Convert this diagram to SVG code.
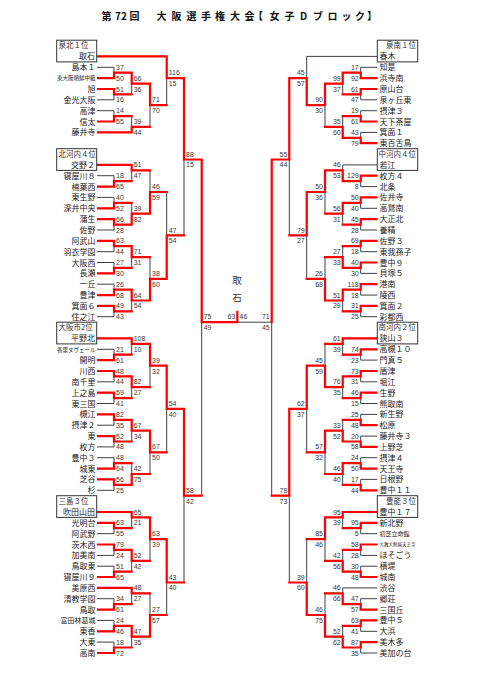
<svg xmlns="http://www.w3.org/2000/svg" width="481" height="680" viewBox="0 0 481 680">
<style>
.t{font-family:"Noto Sans CJK JP","Noto Sans",sans-serif;font-size:8px;fill:#222}
.l{text-anchor:end}
.lb{font-family:"Noto Sans CJK JP",sans-serif;font-size:7.5px;fill:#333}
.s{font-family:"Liberation Sans",Arial,sans-serif;font-size:7px;fill:#3a3a3a}
.se{text-anchor:end}
.k{fill:none;stroke:#404040;stroke-width:1}
.r{fill:none;stroke:#ff0000;stroke-width:2.2;stroke-linecap:square}
.bx{fill:#fff;stroke:#333;stroke-width:1}
</style>
<rect width="481" height="680" fill="#fff"/>
<text font-family="'Noto Sans CJK JP',sans-serif" font-size="10" font-weight="bold" fill="#111" y="19.5" x="101.5 115 121 129.5 156.5 171.5 186.5 201 215 230 244.5 253 269.5 284.5 300 313 327.5 341.5 355 367">第72回大阪選手権大会【女子Dブロック】</text>
<g id="connectors">
<path class="k" d="M96.7 56.4H166.7M97 67.3H114M97 78.1H114M97 89H114M97 99.8H114M97 110.7H114M97 121.5H114M97 132.4H131.7M96.7 164.9H131.7M97 175.7H114M97 186.6H114M97 197.4H114M97 208.3H114M97 219.1H114M97 230H114M97 240.8H114M97 251.7H114M97 262.5H114M97 273.4H114M97 284.2H114M97 295.1H114M97 305.9H114M97 316.7H114M96.7 338.4H131.7M97 349.3H114M97 360.1H114M97 371H114M97 381.8H114M97 392.7H114M97 403.5H114M97 414.4H114M97 425.2H114M97 436.1H114M97 446.9H114M97 457.7H114M97 468.6H114M97 479.4H114M97 490.3H114M96.7 512H131.7M97 522.8H114M97 533.7H114M97 544.5H114M97 555.4H114M97 566.2H114M97 577H114M97 587.9H131.7M97 598.7H114M97 609.6H114M97 620.4H114M97 631.3H114M97 642.1H114M97 653H114"/>
<path class="k" d="M114 67.3V78.1M114 72.7H131.7M114 89V99.8M114 94.4H131.7M114 110.7V121.5M114 116.1H131.7M114 175.7V186.6M114 181.2H131.7M114 197.4V208.3M114 202.9H131.7M114 219.1V230M114 224.6H131.7M114 240.8V251.7M114 246.2H131.7M114 262.5V273.4M114 267.9H131.7M114 284.2V295.1M114 289.6H131.7M114 305.9V316.7M114 311.3H131.7M114 349.3V360.1M114 354.7H131.7M114 371V381.8M114 376.4H131.7M114 392.7V403.5M114 398.1H131.7M114 414.4V425.2M114 419.8H131.7M114 436.1V446.9M114 441.5H131.7M114 457.7V468.6M114 463.2H131.7M114 479.4V490.3M114 484.9H131.7M114 522.8V533.7M114 528.2H131.7M114 544.5V555.4M114 549.9H131.7M114 566.2V577M114 571.6H131.7M114 598.7V609.6M114 604.2H131.7M114 620.4V631.3M114 625.9H131.7M114 642.1V653M114 647.5H131.7"/>
<path class="k" d="M131.7 72.7V94.4M131.7 83.6H150M131.7 116.1V132.4M131.7 126.9H150M131.7 164.9V181.2M131.7 170.3H150M131.7 202.9V224.6M131.7 213.7H150M131.7 246.2V267.9M131.7 257.1H150M131.7 289.6V311.3M131.7 300.5H150M131.7 338.4V354.7M131.7 343.9H150M131.7 376.4V398.1M131.7 387.2H150M131.7 419.8V441.5M131.7 430.6H150M131.7 463.2V484.9M131.7 474H150M131.7 512V528.2M131.7 517.4H150M131.7 549.9V571.6M131.7 560.8H150M131.7 587.9V604.2M131.7 593.3H150M131.7 625.9V647.5M131.7 636.7H150M150 83.6V126.9M150 105.2H166.7M150 170.3V213.7M150 192H166.7M150 257.1V300.5M150 278.8H166.7M150 343.9V387.2M150 365.6H166.7M150 430.6V474M150 452.3H166.7M150 517.4V560.8M150 539.1H166.7M150 593.3V636.7M150 615H166.7M166.7 56.4V105.2M166.7 78.1H184M166.7 192V278.8M166.7 235.4H184M166.7 365.6V452.3M166.7 408.9H184M166.7 539.1V615M166.7 582.5H184M184 78.1V235.4M184 159.5H201.7M184 408.9V582.5M184 495.7H201.7M201.7 159.5V495.7M201.7 322.2H271.7M271.7 159.5V495.7"/>
<path class="k" d="M377.3 56.4H306.7M377.3 67.3H360.7M377.3 78.1H360.7M377.3 89H360.7M377.3 99.8H360.7M377.3 110.7H360.7M377.3 121.5H360.7M377.3 132.4H360.7M377.3 143.2H360.7M377.3 164.9H342.7M377.3 175.7H360.7M377.3 186.6H360.7M377.3 197.4H360.7M377.3 208.3H360.7M377.3 219.1H360.7M377.3 230H360.7M377.3 240.8H360.7M377.3 251.7H360.7M377.3 262.5H360.7M377.3 273.4H360.7M377.3 284.2H360.7M377.3 295.1H360.7M377.3 305.9H360.7M377.3 316.7H360.7M377.3 338.4H342.7M377.3 349.3H360.7M377.3 360.1H360.7M377.3 371H360.7M377.3 381.8H360.7M377.3 392.7H360.7M377.3 403.5H360.7M377.3 414.4H360.7M377.3 425.2H360.7M377.3 436.1H360.7M377.3 446.9H360.7M377.3 457.7H360.7M377.3 468.6H360.7M377.3 479.4H360.7M377.3 490.3H360.7M377.3 512H342.7M377.3 522.8H360.7M377.3 533.7H360.7M377.3 544.5H360.7M377.3 555.4H360.7M377.3 566.2H360.7M377.3 577H360.7M377.3 587.9H342.7M377.3 598.7H360.7M377.3 609.6H360.7M377.3 620.4H360.7M377.3 631.3H360.7M377.3 642.1H360.7M377.3 653H360.7"/>
<path class="k" d="M360.7 67.3V78.1M360.7 72.7H342.7M360.7 89V99.8M360.7 94.4H342.7M360.7 110.7V121.5M360.7 116.1H342.7M360.7 132.4V143.2M360.7 137.8H342.7M360.7 175.7V186.6M360.7 181.2H342.7M360.7 197.4V208.3M360.7 202.9H342.7M360.7 219.1V230M360.7 224.6H342.7M360.7 240.8V251.7M360.7 246.2H342.7M360.7 262.5V273.4M360.7 267.9H342.7M360.7 284.2V295.1M360.7 289.6H342.7M360.7 305.9V316.7M360.7 311.3H342.7M360.7 349.3V360.1M360.7 354.7H342.7M360.7 371V381.8M360.7 376.4H342.7M360.7 392.7V403.5M360.7 398.1H342.7M360.7 414.4V425.2M360.7 419.8H342.7M360.7 436.1V446.9M360.7 441.5H342.7M360.7 457.7V468.6M360.7 463.2H342.7M360.7 479.4V490.3M360.7 484.9H342.7M360.7 522.8V533.7M360.7 528.2H342.7M360.7 544.5V555.4M360.7 549.9H342.7M360.7 566.2V577M360.7 571.6H342.7M360.7 598.7V609.6M360.7 604.2H342.7M360.7 620.4V631.3M360.7 625.9H342.7M360.7 642.1V653M360.7 647.5H342.7"/>
<path class="k" d="M342.7 72.7V94.4M342.7 83.6H325M342.7 116.1V137.8M342.7 126.9H325M342.7 164.9V181.2M342.7 170.3H325M342.7 202.9V224.6M342.7 213.7H325M342.7 246.2V267.9M342.7 257.1H325M342.7 289.6V311.3M342.7 300.5H325M342.7 338.4V354.7M342.7 343.9H325M342.7 376.4V398.1M342.7 387.2H325M342.7 419.8V441.5M342.7 430.6H325M342.7 463.2V484.9M342.7 474H325M342.7 512V528.2M342.7 517.4H325M342.7 549.9V571.6M342.7 560.8H325M342.7 587.9V604.2M342.7 593.3H325M342.7 625.9V647.5M342.7 636.7H325M325 83.6V126.9M325 105.2H306.7M325 170.3V213.7M325 192H306.7M325 257.1V300.5M325 278.8H306.7M325 343.9V387.2M325 365.6H306.7M325 430.6V474M325 452.3H306.7M325 517.4V560.8M325 539.1H306.7M325 593.3V636.7M325 615H306.7M306.7 56.4V105.2M306.7 78.1H289.3M306.7 192V278.8M306.7 235.4H289.3M306.7 365.6V452.3M306.7 408.9H289.3M306.7 539.1V615M306.7 582.5H289.3M289.3 78.1V235.4M289.3 159.5H271.7M289.3 408.9V582.5M289.3 495.7H271.7"/>
<path class="r" d="M98 78.1H114V72.7H131.7M98 89H114V94.4H131.7M98 121.5H114V116.1H131.7M131.7 72.7V83.6H150M98 132.4H131.7V126.9H150M150 83.6V105.2H166.7M97.5 56.4H166.7V78.1H184M184 78.1V159.5H201.7M98 186.6H114V181.2H131.7M98 208.3H114V202.9H131.7M98 219.1H114V224.6H131.7M98 240.8H114V246.2H131.7M98 273.4H114V267.9H131.7M98 295.1H114V289.6H131.7M98 305.9H114V311.3H131.7M97.5 164.9H131.7V170.3H150M131.7 224.6V213.7H150M131.7 246.2V257.1H150M131.7 289.6V300.5H150M150 213.7V192H166.7M150 300.5V278.8H166.7M166.7 278.8V235.4H184M98 360.1H114V354.7H131.7M98 371H114V376.4H131.7M98 392.7H114V398.1H131.7M98 414.4H114V419.8H131.7M98 436.1H114V441.5H131.7M98 468.6H114V463.2H131.7M98 479.4H114V484.9H131.7M97.5 338.4H131.7V343.9H150M131.7 376.4V387.2H150M131.7 419.8V430.6H150M131.7 484.9V474H150M150 343.9V365.6H166.7M150 430.6V452.3H166.7M166.7 365.6V408.9H184M184 408.9V495.7H201.7M98 522.8H114V528.2H131.7M98 544.5H114V549.9H131.7M98 577H114V571.6H131.7M98 609.6H114V604.2H131.7M98 631.3H114V625.9H131.7M98 653H114V647.5H131.7M97.5 512H131.7V517.4H150M131.7 549.9V560.8H150M98 587.9H131.7V593.3H150M131.7 625.9V636.7H150M150 517.4V539.1H166.7M150 636.7V615H166.7M166.7 539.1V582.5H184M201.7 159.5V322.2H237.3V311.8"/>
<path class="r" d="M376.3 78.1H360.7V72.7H342.7M376.3 89H360.7V94.4H342.7M376.3 121.5H360.7V116.1H342.7M376.3 143.2H360.7V137.8H342.7M342.7 72.7V83.6H325M342.7 137.8V126.9H325M325 83.6V105.2H306.7M306.7 105.2V78.1H289.3M289.3 78.1V159.5H271.7M376.3 175.7H360.7V181.2H342.7M376.3 197.4H360.7V202.9H342.7M376.3 219.1H360.7V224.6H342.7M376.3 240.8H360.7V246.2H342.7M376.3 262.5H360.7V267.9H342.7M376.3 284.2H360.7V289.6H342.7M376.3 305.9H360.7V311.3H342.7M342.7 181.2V170.3H325M342.7 202.9V213.7H325M342.7 267.9V257.1H325M342.7 289.6V300.5H325M325 170.3V192H306.7M325 300.5V278.8H306.7M306.7 192V235.4H289.3M376.3 349.3H360.7V354.7H342.7M376.3 371H360.7V376.4H342.7M376.3 392.7H360.7V398.1H342.7M376.3 425.2H360.7V419.8H342.7M376.3 446.9H360.7V441.5H342.7M376.3 468.6H360.7V463.2H342.7M376.3 490.3H360.7V484.9H342.7M376.8 338.4H342.7V343.9H325M342.7 376.4V387.2H325M342.7 441.5V430.6H325M342.7 463.2V474H325M325 387.2V365.6H306.7M325 430.6V452.3H306.7M306.7 365.6V408.9H289.3M289.3 408.9V495.7H271.7M376.3 522.8H360.7V528.2H342.7M376.3 544.5H360.7V549.9H342.7M376.3 577H360.7V571.6H342.7M376.3 609.6H360.7V604.2H342.7M376.3 620.4H360.7V625.9H342.7M376.3 642.1H360.7V647.5H342.7M376.8 512H342.7V517.4H325M342.7 571.6V560.8H325M342.7 604.2V593.3H325M342.7 647.5V636.7H325M325 517.4V539.1H306.7M325 636.7V615H306.7M306.7 615V582.5H289.3M271.7 159.5V322.2"/>
</g>
<g id="boxes">
<g id="n-toriishi"><rect class="bx" x="56.7" y="40.2" width="40" height="21.7"/><text class="lb" x="58.5" y="48.4">泉北１位</text><text class="t l" x="95" y="59.4">取石</text></g>
<g id="n-katano2"><rect class="bx" x="56.7" y="148.7" width="40" height="21.7"/><text class="lb" x="58.5" y="156.9">北河内４位</text><text class="t l" x="95" y="167.9">交野２</text></g>
<g id="n-hiranokita"><rect class="bx" x="56.7" y="322.2" width="40" height="21.7"/><text class="lb" x="58.5" y="330.4">大阪市2位</text><text class="t l" x="95" y="341.4">平野北</text></g>
<g id="n-suitayamada"><rect class="bx" x="56.7" y="495.7" width="40" height="21.7"/><text class="lb" x="58.5" y="503.9">三島３位</text><text class="t l" x="95" y="515">吹田山田</text></g>
<g id="n-haruki"><rect class="bx" x="377.3" y="40.2" width="40.4" height="21.7"/><text class="lb l" x="416" y="48.4">泉南１位</text><text class="t" x="379.5" y="59.4">春木</text></g>
<g id="n-wakae"><rect class="bx" x="377.3" y="148.7" width="40.4" height="21.7"/><text class="lb l" x="416" y="156.9">中河内４位</text><text class="t" x="379.5" y="167.9">若江</text></g>
<g id="n-sayama3"><rect class="bx" x="377.3" y="322.2" width="40.4" height="21.7"/><text class="lb l" x="416" y="330.4">南河内２位</text><text class="t" x="379.5" y="341.4">狭山３</text></g>
<g id="n-toyonaka17"><rect class="bx" x="377.3" y="495.7" width="40.4" height="21.7"/><text class="lb l" x="416" y="503.9">豊能３位</text><text class="t" x="379.5" y="515">豊中１７</text></g>
</g>
<g id="left-teams" class="t l">
<text x="95.5" y="70.3">島本１</text>
<text x="95.5" y="80.2" font-size="5.5">東大阪朝鮮中級</text>
<text x="95.5" y="92">旭</text>
<text x="95.5" y="102.8">金光大阪</text>
<text x="95.5" y="113.7">高津</text>
<text x="95.5" y="124.5">信太</text>
<text x="95.5" y="135.4">藤井寺</text>
<text x="95.5" y="178.7">寝屋川８</text>
<text x="95.5" y="189.6">楠葉西</text>
<text x="95.5" y="200.4">東生野</text>
<text x="95.5" y="211.3">深井中央</text>
<text x="95.5" y="222.1">蒲生</text>
<text x="95.5" y="233">佐野</text>
<text x="95.5" y="243.8">阿武山</text>
<text x="95.5" y="254.7">羽衣学園</text>
<text x="95.5" y="265.5">大阪西</text>
<text x="95.5" y="276.4">長瀬</text>
<text x="95.5" y="287.2">一丘</text>
<text x="95.5" y="298.1">豊津</text>
<text x="95.5" y="308.9">箕面６</text>
<text x="95.5" y="319.7">住之江</text>
<text x="95.5" y="351.5" font-size="5.5">香里ヌヴェール</text>
<text x="95.5" y="363.1">開明</text>
<text x="95.5" y="374">川西</text>
<text x="95.5" y="384.8">南千里</text>
<text x="95.5" y="395.7">上之島</text>
<text x="95.5" y="406.5">東三国</text>
<text x="95.5" y="417.4">槻江</text>
<text x="95.5" y="428.2">摂津２</text>
<text x="95.5" y="439.1">東</text>
<text x="95.5" y="449.9">枚方</text>
<text x="95.5" y="460.7">豊中３</text>
<text x="95.5" y="471.6">城東</text>
<text x="95.5" y="482.4">芝谷</text>
<text x="95.5" y="493.3">杉</text>
<text x="95.5" y="525.8">光明台</text>
<text x="95.5" y="536.7">阿武野</text>
<text x="95.5" y="547.5">茨木西</text>
<text x="95.5" y="558.4">加美南</text>
<text x="95.5" y="569.2">鳥取東</text>
<text x="95.5" y="580">寝屋川９</text>
<text x="95.5" y="590.9">美原西</text>
<text x="95.5" y="601.7">清教学園</text>
<text x="95.5" y="612.6">鳥取</text>
<text x="95.5" y="623" font-size="7">富田林葛城</text>
<text x="95.5" y="634.3">東香</text>
<text x="95.5" y="645.1">大東</text>
<text x="95.5" y="656">高南</text>
</g>
<g id="right-teams" class="t">
<text x="379.5" y="70.3">知是</text>
<text x="379.5" y="81.1">浜寺南</text>
<text x="379.5" y="92">原山台</text>
<text x="379.5" y="102.8">泉ヶ丘東</text>
<text x="379.5" y="113.7">摂津３</text>
<text x="379.5" y="124.5">天下茶屋</text>
<text x="379.5" y="135.4">箕面１</text>
<text x="379.5" y="146.2">東百舌鳥</text>
<text x="379.5" y="178.7">枚方４</text>
<text x="379.5" y="189.6">北条</text>
<text x="379.5" y="200.4">佐井寺</text>
<text x="379.5" y="211.3">高鷲南</text>
<text x="379.5" y="222.1">大正北</text>
<text x="379.5" y="233">養精</text>
<text x="379.5" y="243.8">佐野３</text>
<text x="379.5" y="254.7">東我孫子</text>
<text x="379.5" y="265.5">豊中９</text>
<text x="379.5" y="276.4">貝塚５</text>
<text x="379.5" y="287.2">港南</text>
<text x="379.5" y="298.1">陵西</text>
<text x="379.5" y="308.9">箕面２</text>
<text x="379.5" y="319.7">彩都西</text>
<text x="379.5" y="352.3">高槻１０</text>
<text x="379.5" y="363.1">門真５</text>
<text x="379.5" y="374">盾津</text>
<text x="379.5" y="384.8">堀江</text>
<text x="379.5" y="395.7">生野</text>
<text x="379.5" y="406.5">熊取南</text>
<text x="379.5" y="417.4">新生野</text>
<text x="379.5" y="428.2">松原</text>
<text x="379.5" y="439.1">藤井寺３</text>
<text x="379.5" y="449.9">上野芝</text>
<text x="379.5" y="460.7">摂津４</text>
<text x="379.5" y="471.6">天王寺</text>
<text x="379.5" y="482.4">日根野</text>
<text x="379.5" y="493.3">豊中１１</text>
<text x="379.5" y="525.8">新北野</text>
<text x="379.5" y="536.1" font-size="6">初芝立命館</text>
<text x="379.5" y="546.3" font-size="4.5">大教大附属天王寺</text>
<text x="379.5" y="558.4">ほそごう</text>
<text x="379.5" y="569.2">横堤</text>
<text x="379.5" y="580">城南</text>
<text x="379.5" y="590.9">渋谷</text>
<text x="379.5" y="601.7">郷荘</text>
<text x="379.5" y="612.6">三国丘</text>
<text x="379.5" y="623.4">豊中５</text>
<text x="379.5" y="634.3">大浜</text>
<text x="379.5" y="645.1">美木多</text>
<text x="379.5" y="656">美加の台</text>
</g>
<g id="center">
<text font-family="'Noto Sans CJK JP',sans-serif" font-size="9.5" fill="#333" text-anchor="middle" x="237" y="284">取</text>
<text font-family="'Noto Sans CJK JP',sans-serif" font-size="9.5" fill="#333" text-anchor="middle" x="237" y="300.5">石</text>
</g>
<g id="scores-left" class="s">
<text><tspan x="116" y="69.8">37</tspan><tspan x="116" y="80.6">50</tspan><tspan x="116" y="91.5">51</tspan><tspan x="116" y="102.3">16</tspan><tspan x="116" y="113.2">14</tspan><tspan x="116" y="124">55</tspan><tspan x="116" y="178.2">18</tspan><tspan x="116" y="189.1">65</tspan><tspan x="116" y="199.9">40</tspan><tspan x="116" y="210.8">52</tspan><tspan x="116" y="221.6">66</tspan><tspan x="116" y="232.5">28</tspan><tspan x="116" y="243.3">63</tspan><tspan x="116" y="254.2">44</tspan><tspan x="116" y="265">27</tspan><tspan x="116" y="275.9">30</tspan><tspan x="116" y="286.7">26</tspan><tspan x="116" y="297.6">68</tspan><tspan x="116" y="308.4">49</tspan><tspan x="116" y="319.2">43</tspan><tspan x="116" y="351.8">21</tspan><tspan x="116" y="362.6">61</tspan><tspan x="116" y="373.5">48</tspan><tspan x="116" y="384.3">44</tspan><tspan x="116" y="395.2">59</tspan><tspan x="116" y="406">41</tspan><tspan x="116" y="416.9">82</tspan><tspan x="116" y="427.7">35</tspan><tspan x="116" y="438.6">52</tspan><tspan x="116" y="449.4">48</tspan><tspan x="116" y="460.2">48</tspan><tspan x="116" y="471.1">64</tspan><tspan x="116" y="481.9">56</tspan><tspan x="116" y="492.8">25</tspan><tspan x="116" y="525.3">63</tspan><tspan x="116" y="536.2">55</tspan><tspan x="116" y="547">79</tspan><tspan x="116" y="557.9">24</tspan><tspan x="116" y="568.7">51</tspan><tspan x="116" y="579.5">65</tspan><tspan x="116" y="601.2">34</tspan><tspan x="116" y="612.1">61</tspan><tspan x="116" y="622.9">24</tspan><tspan x="116" y="633.8">46</tspan><tspan x="116" y="644.6">18</tspan><tspan x="116" y="655.5">72</tspan></text>
<text><tspan x="133.7" y="80.6">66</tspan><tspan x="133.7" y="91.5">36</tspan><tspan x="133.7" y="124">39</tspan><tspan x="133.7" y="134.9">44</tspan><tspan x="133.7" y="167.4">51</tspan><tspan x="133.7" y="178.2">47</tspan><tspan x="133.7" y="210.8">39</tspan><tspan x="133.7" y="221.6">82</tspan><tspan x="133.7" y="254.2">71</tspan><tspan x="133.7" y="265">31</tspan><tspan x="133.7" y="297.6">64</tspan><tspan x="133.7" y="308.4">54</tspan><tspan x="133.7" y="340.9">108</tspan><tspan x="133.7" y="351.8">10</tspan><tspan x="133.7" y="384.3">82</tspan><tspan x="133.7" y="395.2">27</tspan><tspan x="133.7" y="427.7">67</tspan><tspan x="133.7" y="438.6">34</tspan><tspan x="133.7" y="471.1">42</tspan><tspan x="133.7" y="481.9">75</tspan><tspan x="133.7" y="514.5">65</tspan><tspan x="133.7" y="525.3">21</tspan><tspan x="133.7" y="557.9">52</tspan><tspan x="133.7" y="568.7">42</tspan><tspan x="133.7" y="590.4">48</tspan><tspan x="133.7" y="601.2">27</tspan><tspan x="133.7" y="633.8">47</tspan><tspan x="133.7" y="644.6">35</tspan></text>
<text><tspan x="152" y="102.3">71</tspan><tspan x="152" y="113.2">70</tspan><tspan x="152" y="189.1">46</tspan><tspan x="152" y="199.9">59</tspan><tspan x="152" y="275.9">38</tspan><tspan x="152" y="286.7">60</tspan><tspan x="152" y="362.6">39</tspan><tspan x="152" y="373.5">32</tspan><tspan x="152" y="449.4">67</tspan><tspan x="152" y="460.2">50</tspan><tspan x="152" y="536.2">63</tspan><tspan x="152" y="547">39</tspan><tspan x="152" y="612.1">27</tspan><tspan x="152" y="622.9">57</tspan></text>
<text><tspan x="168.7" y="75.2">116</tspan><tspan x="168.7" y="86.1">15</tspan><tspan x="168.7" y="232.5">47</tspan><tspan x="168.7" y="243.3">54</tspan><tspan x="168.7" y="406">54</tspan><tspan x="168.7" y="416.9">40</tspan><tspan x="168.7" y="579.5">43</tspan><tspan x="168.7" y="590.4">40</tspan></text>
<text><tspan x="186" y="156.6">88</tspan><tspan x="186" y="167.4">15</tspan><tspan x="186" y="492.8">58</tspan><tspan x="186" y="503.6">42</tspan><tspan x="203.7" y="319.2">75</tspan><tspan x="203.7" y="330.1">49</tspan><tspan x="239.5" y="319.2">46</tspan></text>
<text class="se"><tspan x="235.3" y="319.2">63</tspan></text>
</g>
<g id="scores-right" class="s se">
<text><tspan x="358.7" y="69.8">17</tspan><tspan x="358.7" y="80.6">92</tspan><tspan x="358.7" y="91.5">61</tspan><tspan x="358.7" y="102.3">47</tspan><tspan x="358.7" y="113.2">19</tspan><tspan x="358.7" y="124">61</tspan><tspan x="358.7" y="134.9">43</tspan><tspan x="358.7" y="145.7">79</tspan><tspan x="358.7" y="178.2">129</tspan><tspan x="358.7" y="189.1">8</tspan><tspan x="358.7" y="199.9">50</tspan><tspan x="358.7" y="210.8">40</tspan><tspan x="358.7" y="221.6">45</tspan><tspan x="358.7" y="232.5">28</tspan><tspan x="358.7" y="243.3">69</tspan><tspan x="358.7" y="254.2">18</tspan><tspan x="358.7" y="265">40</tspan><tspan x="358.7" y="275.9">30</tspan><tspan x="358.7" y="286.7">118</tspan><tspan x="358.7" y="297.6">18</tspan><tspan x="358.7" y="308.4">31</tspan><tspan x="358.7" y="319.2">25</tspan><tspan x="358.7" y="351.8">74</tspan><tspan x="358.7" y="362.6">23</tspan><tspan x="358.7" y="373.5">73</tspan><tspan x="358.7" y="384.3">31</tspan><tspan x="358.7" y="395.2">46</tspan><tspan x="358.7" y="406">15</tspan><tspan x="358.7" y="416.9">25</tspan><tspan x="358.7" y="427.7">48</tspan><tspan x="358.7" y="438.6">20</tspan><tspan x="358.7" y="449.4">58</tspan><tspan x="358.7" y="460.2">24</tspan><tspan x="358.7" y="471.1">50</tspan><tspan x="358.7" y="481.9">17</tspan><tspan x="358.7" y="492.8">44</tspan><tspan x="358.7" y="525.3">95</tspan><tspan x="358.7" y="536.2">5</tspan><tspan x="358.7" y="547">58</tspan><tspan x="358.7" y="557.9">28</tspan><tspan x="358.7" y="568.7">30</tspan><tspan x="358.7" y="579.5">48</tspan><tspan x="358.7" y="601.2">47</tspan><tspan x="358.7" y="612.1">57</tspan><tspan x="358.7" y="622.9">63</tspan><tspan x="358.7" y="633.8">41</tspan><tspan x="358.7" y="644.6">87</tspan><tspan x="358.7" y="655.5">35</tspan></text>
<text><tspan x="340.7" y="80.6">99</tspan><tspan x="340.7" y="91.5">37</tspan><tspan x="340.7" y="124">35</tspan><tspan x="340.7" y="134.9">60</tspan><tspan x="340.7" y="167.4">46</tspan><tspan x="340.7" y="178.2">53</tspan><tspan x="340.7" y="210.8">56</tspan><tspan x="340.7" y="221.6">31</tspan><tspan x="340.7" y="254.2">27</tspan><tspan x="340.7" y="265">33</tspan><tspan x="340.7" y="297.6">51</tspan><tspan x="340.7" y="308.4">29</tspan><tspan x="340.7" y="340.9">61</tspan><tspan x="340.7" y="351.8">39</tspan><tspan x="340.7" y="384.3">76</tspan><tspan x="340.7" y="395.2">35</tspan><tspan x="340.7" y="427.7">33</tspan><tspan x="340.7" y="438.6">52</tspan><tspan x="340.7" y="471.1">46</tspan><tspan x="340.7" y="481.9">40</tspan><tspan x="340.7" y="514.5">95</tspan><tspan x="340.7" y="525.3">39</tspan><tspan x="340.7" y="557.9">42</tspan><tspan x="340.7" y="568.7">56</tspan><tspan x="340.7" y="590.4">46</tspan><tspan x="340.7" y="601.2">66</tspan><tspan x="340.7" y="633.8">52</tspan><tspan x="340.7" y="644.6">62</tspan></text>
<text><tspan x="323" y="102.3">90</tspan><tspan x="323" y="113.2">30</tspan><tspan x="323" y="189.1">50</tspan><tspan x="323" y="199.9">36</tspan><tspan x="323" y="275.9">26</tspan><tspan x="323" y="286.7">68</tspan><tspan x="323" y="362.6">45</tspan><tspan x="323" y="373.5">59</tspan><tspan x="323" y="449.4">57</tspan><tspan x="323" y="460.2">32</tspan><tspan x="323" y="536.2">85</tspan><tspan x="323" y="547">46</tspan><tspan x="323" y="612.1">46</tspan><tspan x="323" y="622.9">75</tspan></text>
<text><tspan x="304.7" y="75.2">45</tspan><tspan x="304.7" y="86.1">57</tspan><tspan x="304.7" y="232.5">79</tspan><tspan x="304.7" y="243.3">27</tspan><tspan x="304.7" y="406">62</tspan><tspan x="304.7" y="416.9">37</tspan><tspan x="304.7" y="579.5">39</tspan><tspan x="304.7" y="590.4">60</tspan></text>
<text><tspan x="287.3" y="156.6">55</tspan><tspan x="287.3" y="167.4">44</tspan><tspan x="287.3" y="492.8">78</tspan><tspan x="287.3" y="503.6">73</tspan><tspan x="269.7" y="319.2">71</tspan><tspan x="269.7" y="330.1">45</tspan></text>
</g>
</svg>
